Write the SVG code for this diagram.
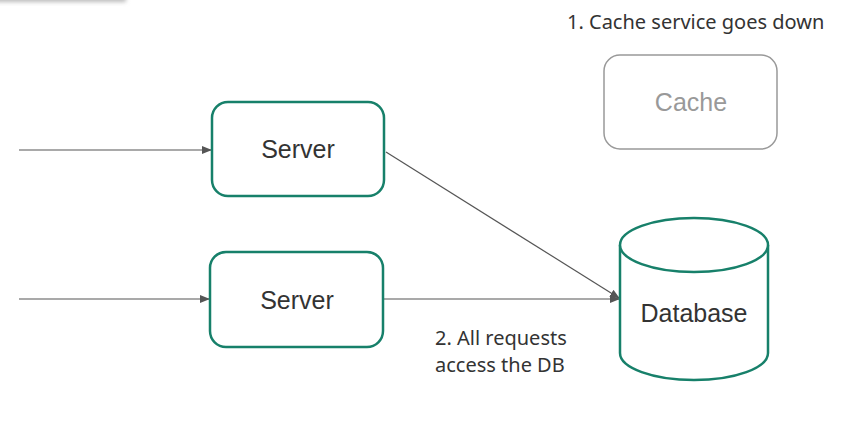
<svg xmlns="http://www.w3.org/2000/svg" width="864" height="421" viewBox="0 0 864 421">
<defs>
<marker id="arr" markerWidth="10" markerHeight="8" refX="9" refY="4" orient="auto" markerUnits="userSpaceOnUse">
<path d="M0,0 L10,4 L0,8 z" fill="#555"/>
</marker>
<filter id="sh" x="-20%" y="-200%" width="140%" height="500%"><feGaussianBlur stdDeviation="2"/></filter>
</defs>
<style>
.node{fill:#fff;stroke:#17806a;stroke-width:2.5}
.lbl{font-family:"Liberation Sans",Arial,sans-serif;font-size:25px;fill:#333;text-anchor:middle}
.note{font-family:"Noto Sans","Open Sans",sans-serif;font-size:20px;fill:#333}
.edge{stroke:#555;stroke-width:1.2;fill:none;marker-end:url(#arr)}
</style>
<rect width="864" height="421" fill="#fff"/>
<rect x="-10" y="-6" width="136" height="8" fill="#bbb" filter="url(#sh)"/>
<rect x="-10" y="-6" width="135" height="6" fill="#fff"/>
<g id="connectors">
<line class="edge" x1="19" y1="150" x2="211" y2="150"/>
<line class="edge" x1="19" y1="299" x2="209" y2="299"/>
<line class="edge" x1="386" y1="152" x2="619" y2="298"/>
<line class="edge" x1="384" y1="299" x2="619" y2="299"/>
</g>
<g id="server1">
<rect class="node" x="212" y="102" width="172" height="94" rx="16"/>
<text class="lbl" x="298" y="158">Server</text>
</g>
<g id="server2">
<rect class="node" x="210" y="252" width="173" height="95" rx="16"/>
<text class="lbl" x="297" y="309">Server</text>
</g>
<g id="cache">
<rect x="604" y="55" width="173" height="94" rx="16" fill="#fff" stroke="#999" stroke-width="1.5"/>
<text class="lbl" x="691" y="111" style="fill:#999">Cache</text>
</g>
<g id="database">
<path class="node" d="M620,245 L620,353 A74,27 0 0 0 768,353 L768,245"/>
<ellipse class="node" cx="694" cy="245" rx="74" ry="27"/>
<text class="lbl" x="694" y="322">Database</text>
</g>
<g id="notes">
<text class="note" x="567" y="29">1. Cache service goes down</text>
<text class="note" x="435" y="345">2. All requests</text>
<text class="note" x="435" y="372">access the DB</text>
</g>
</svg>
